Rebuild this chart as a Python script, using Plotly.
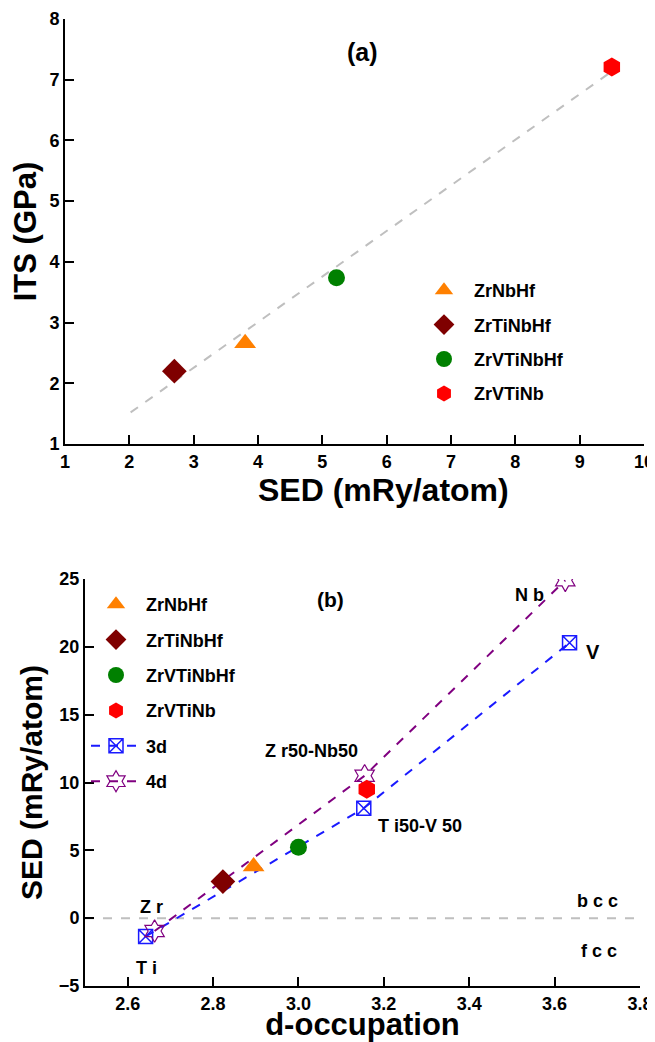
import plotly.graph_objects as go

# ---------------- data ----------------
alloys = ["ZrNbHf", "ZrTiNbHf", "ZrVTiNbHf", "ZrVTiNb"]
alloy_sed = [3.80, 2.70, 5.22, 9.50]          # mRy/atom
alloy_its = [2.66, 2.20, 3.74, 7.21]          # GPa
alloy_docc = [2.895, 2.823, 3.0, 3.16]        # d-occupation
alloy_colors = ["#FF8000", "#7F0000", "#008000", "#FF0000"]
alloy_symbols = ["triangle-up", "diamond", "circle", "hexagon"]

fit_sed = [2.02, 9.45]
fit_its = [1.52, 7.10]

tm3d_docc = [2.642, 3.153, 3.635]
tm3d_sed = [-1.35, 8.1, 20.3]
tm3d_names = ["Ti", "Ti50-V50", "V"]
tm4d_docc = [2.663, 3.155, 3.625]
tm4d_sed = [-0.95, 10.5, 24.9]
tm4d_names = ["Zr", "Zr50-Nb50", "Nb"]

bcc_line_x = [2.5, 3.8]
bcc_line_y = [0, 0]

# ---------------- layout geometry ----------------
# the page body has an 8px margin, so the figure is drawn 8px in from the window edge
OFF = 8
W, H = 655 - OFF, 1042 - OFF
ML, MR, MT, MB = 50, 2, 5, 30
PW, PH = W - ML - MR, H - MT - MB

def fx(px):
    return (px - OFF - ML) / PW

def fy(py):
    return (H - MB - (py - OFF)) / PH

SANS = "Liberation Sans, Arial"
BLACK = "#000000"

fig = go.Figure()

# ---------- panel (a) ----------
fig.add_trace(go.Scatter(x=fit_sed, y=fit_its, mode="lines", xaxis="x", yaxis="y",
                         line=dict(color="#BFBFBF", width=2, dash="dash"),
                         showlegend=False, hoverinfo="skip"))
for i, name in enumerate(alloys):
    fig.add_trace(go.Scatter(
        x=[alloy_sed[i]], y=[alloy_its[i]], mode="markers", name=name, xaxis="x", yaxis="y",
        marker=dict(symbol=alloy_symbols[i], color=alloy_colors[i],
                    size=19 if alloy_symbols[i] != "circle" else 17),
        legend="legend", legendgroup="a" + name, legendrank=i + 1,
    ))

# ---------- panel (b) ----------
fig.add_trace(go.Scatter(x=bcc_line_x, y=bcc_line_y, mode="lines", xaxis="x2", yaxis="y2",
                         line=dict(color="#BFBFBF", width=2, dash="dash"),
                         showlegend=False, hoverinfo="skip"))
fig.add_trace(go.Scatter(
    x=tm3d_docc, y=tm3d_sed, mode="lines+markers", name="3d", xaxis="x2", yaxis="y2",
    line=dict(color="#1A1AFF", width=2, dash="dash"),
    marker=dict(symbol="square-x-open", color="#1A1AFF", size=14, line=dict(width=1.5)),
    legend="legend2", legendgroup="b3d", legendrank=5,
))
fig.add_trace(go.Scatter(
    x=tm4d_docc, y=tm4d_sed, mode="lines+markers", name="4d", xaxis="x2", yaxis="y2",
    line=dict(color="#800080", width=2, dash="dash"),
    marker=dict(symbol="hexagram-open", color="#800080", size=17, line=dict(width=1.2)),
    legend="legend2", legendgroup="b4d", legendrank=6,
))
for i, name in enumerate(alloys):
    fig.add_trace(go.Scatter(
        x=[alloy_docc[i]], y=[alloy_sed[i]], mode="markers", name=name, xaxis="x2", yaxis="y2",
        marker=dict(symbol=alloy_symbols[i], color=alloy_colors[i],
                    size=19 if alloy_symbols[i] != "circle" else 17),
        legend="legend2", legendgroup="b" + name, legendrank=i + 1,
    ))

# ---------- axes ----------
def main_axis(domain, rng, dtick, tick0, anchor, title, tsize, standoff, fmt=None):
    d = dict(domain=domain, range=rng, dtick=dtick, tick0=tick0, anchor=anchor,
             showline=True, linecolor=BLACK, linewidth=2,
             ticks="inside", ticklen=9, tickwidth=2, tickcolor=BLACK,
             showgrid=False, zeroline=False, automargin=False,
             ticklabeloverflow="allow",
             tickfont=dict(family=SANS, size=18, color=BLACK, weight="bold"),
             title=dict(text=title, standoff=standoff,
                        font=dict(family=SANS, size=tsize, color=BLACK, weight="bold")))
    if fmt:
        d["tickformat"] = fmt
    return d

def overlay_axis(over, anchor, side, rng, dtick, tick0, ticklen, line):
    return dict(overlaying=over, anchor=anchor, side=side, range=rng, dtick=dtick, tick0=tick0,
                showline=line, linecolor=BLACK, linewidth=2,
                ticks="inside", ticklen=ticklen, tickwidth=2 if ticklen > 6 else 1.5, tickcolor=BLACK,
                showticklabels=False, showgrid=False, zeroline=False, automargin=False)

xa_rng, ya_rng = [1, 10], [1, 8]
xb_rng, yb_rng = [2.5, 3.8], [-5, 25]

layout_axes = dict(
    xaxis=main_axis([fx(65), fx(644)], xa_rng, 1, 1, "y", "", 31, 6),
    yaxis=main_axis([fy(444), fy(19)], ya_rng, 1, 1, "x", "ITS (GPa)", 31, 12),
    xaxis2=main_axis([fx(85), fx(640)], xb_rng, 0.2, 2.6, "y2", "d-occupation", 31, 6, ".1f"),
    yaxis2=main_axis([fy(986), fy(579)], yb_rng, 5, 0, "x2", "SED (mRy/atom)", 30, 7),
    # panel (a) minor / mirrored ticks
    xaxis3=overlay_axis("x", "y", "bottom", xa_rng, 0.5, 1, 5, False),
    xaxis4=overlay_axis("x", "y", "top", xa_rng, 1, 1, 9, True),
    xaxis5=overlay_axis("x", "y", "top", xa_rng, 0.5, 1, 5, False),
    yaxis3=overlay_axis("y", "x", "left", ya_rng, 0.5, 1, 5, False),
    yaxis4=overlay_axis("y", "x", "right", ya_rng, 1, 1, 9, True),
    yaxis5=overlay_axis("y", "x", "right", ya_rng, 0.5, 1, 5, False),
    # panel (b) minor / mirrored ticks
    xaxis6=overlay_axis("x2", "y2", "bottom", xb_rng, 0.1, 2.5, 5, False),
    xaxis7=overlay_axis("x2", "y2", "top", xb_rng, 0.2, 2.6, 9, True),
    xaxis8=overlay_axis("x2", "y2", "top", xb_rng, 0.1, 2.5, 5, False),
    yaxis6=overlay_axis("y2", "x2", "left", yb_rng, 2.5, 0, 5, False),
    yaxis7=overlay_axis("y2", "x2", "right", yb_rng, 5, 0, 9, True),
    yaxis8=overlay_axis("y2", "x2", "right", yb_rng, 2.5, 0, 5, False),
)

# ---------- annotations ----------
ann_font = dict(family=SANS, size=18, color=BLACK, weight="bold")
annotations = [
    # x-axis title of panel (a), sitting right of centre as in the original
    dict(x=5.95, y=fy(490), xref="x", yref="paper", text="SED (mRy/atom)",
         yanchor="middle", font=dict(family=SANS, size=32, color=BLACK, weight="bold")),
    dict(x=5.62, y=7.46, xref="x", yref="y", text="(a)",
         font=dict(family=SANS, size=25, color=BLACK, weight="bold")),
    dict(x=3.074, y=23.5, xref="x2", yref="y2", text="(b)",
         font=dict(family=SANS, size=21, color=BLACK, weight="bold")),
    dict(x=2.655, y=0.8, xref="x2", yref="y2", text="Z r", font=ann_font),
    dict(x=2.643, y=-3.7, xref="x2", yref="y2", text="T i", font=ann_font),
    dict(x=3.03, y=12.3, xref="x2", yref="y2", text="Z r50-Nb50", font=ann_font),
    dict(x=3.285, y=6.8, xref="x2", yref="y2", text="T i50-V 50", font=ann_font),
    dict(x=3.54, y=23.8, xref="x2", yref="y2", text="N b", font=ann_font),
    dict(x=3.69, y=19.6, xref="x2", yref="y2", text="V",
         font=dict(family=SANS, size=20, color=BLACK, weight="bold")),
    dict(x=3.70, y=1.3, xref="x2", yref="y2", text="b c c", font=ann_font),
    dict(x=3.705, y=-2.4, xref="x2", yref="y2", text="f c c", font=ann_font),
]
for a in annotations:
    a["showarrow"] = False

fig.update_layout(
    template="none",
    width=W, height=H,
    margin=dict(l=ML, r=MR, t=MT, b=MB, autoexpand=False),
    paper_bgcolor="white", plot_bgcolor="white",
    font=dict(family=SANS, color=BLACK),
    annotations=annotations,
    legend=dict(x=fx(414), y=fy(272), xanchor="left", yanchor="top",
                bgcolor="rgba(0,0,0,0)", traceorder="grouped", tracegroupgap=8,
                itemwidth=50,
                font=dict(family=SANS, size=18, color=BLACK, weight="bold")),
    legend2=dict(x=fx(86), y=fy(586), xanchor="left", yanchor="top",
                 bgcolor="rgba(0,0,0,0)", traceorder="grouped", tracegroupgap=9,
                 itemwidth=50,
                 font=dict(family=SANS, size=18, color=BLACK, weight="bold")),
    **layout_axes,
)

fig.write_html("out.html")
